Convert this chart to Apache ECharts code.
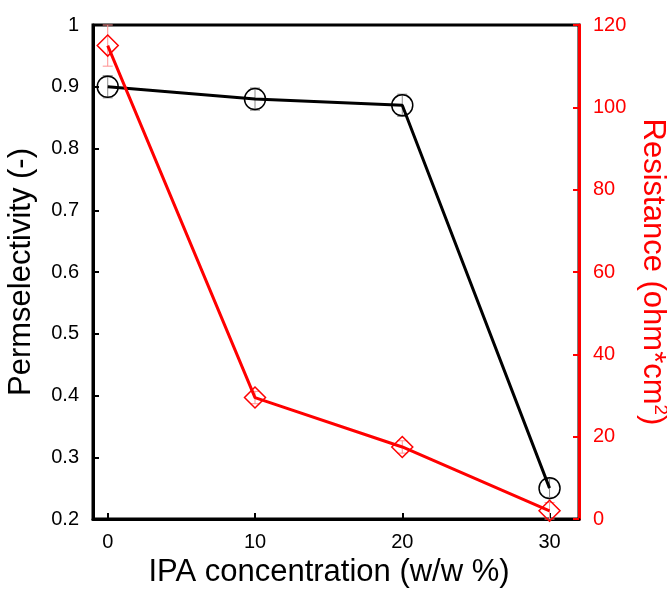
<!DOCTYPE html>
<html>
<head>
<meta charset="utf-8">
<script src="https://cdn.jsdelivr.net/npm/echarts@6/dist/echarts.min.js"></script>
<style>html,body{margin:0;padding:0;background:#fff;}#chart{width:667px;height:590px;}</style>
</head>
<body>
<div id="chart"></div>
<script>
const ipaConcentration = [0, 10, 20, 30];
const permselectivity = [0.9, 0.88, 0.87, 0.25];
const permselectivityError = [0.018, 0.018, 0.018, 0.015];
const resistance = [115, 29.5, 17.5, 2];
const resistanceError = [5, 1.5, 1.5, 2];
const xTicks = [0, 10, 20, 30];

const FONT = '"Liberation Sans", Arial, sans-serif';

function errorSeries(values, errors, yAxisIndex, color) {
  return {
    type: 'custom',
    yAxisIndex: yAxisIndex,
    z: 1,
    silent: true,
    data: ipaConcentration.map((x, i) => [x, values[i], errors[i]]),
    renderItem: function (params, api) {
      const x = api.value(0), y = api.value(1), e = api.value(2);
      const lo = api.coord([x, y - e]);
      const hi = api.coord([x, y + e]);
      const w = 5;
      const style = { stroke: color, lineWidth: 1 };
      return {
        type: 'group',
        children: [
          { type: 'line', shape: { x1: lo[0], y1: lo[1], x2: hi[0], y2: hi[1] }, style: style },
          { type: 'line', shape: { x1: lo[0] - w, y1: lo[1], x2: lo[0] + w, y2: lo[1] }, style: style },
          { type: 'line', shape: { x1: hi[0] - w, y1: hi[1], x2: hi[0] + w, y2: hi[1] }, style: style }
        ]
      };
    }
  };
}

const chart = echarts.init(document.getElementById('chart'), null, { renderer: 'canvas' });
chart.setOption({
  animation: false,
  backgroundColor: '#fff',
  textStyle: { fontFamily: FONT },
  grid: { left: 93, right: 88, top: 25, bottom: 71, containLabel: false, outerBoundsMode: 'none', show: true, borderColor: '#000', borderWidth: 3, backgroundColor: 'transparent' },
  xAxis: {
    type: 'value',
    min: -1,
    max: 32,
    name: 'IPA concentration (w/w %)',
    nameLocation: 'middle',
    nameGap: 38,
    nameTextStyle: { fontSize: 31, color: '#000', fontFamily: FONT, padding: [0, 14, 0, 0] },
    axisLine: { show: true, onZero: false, lineStyle: { color: '#000', width: 3 } },
    axisTick: { show: true, inside: true, length: 6, lineStyle: { color: '#000', width: 2 }, customValues: xTicks },
    axisLabel: { fontSize: 20, color: '#000', margin: 13, fontFamily: FONT, customValues: xTicks },
    splitLine: { show: false }
  },
  yAxis: [
    {
      type: 'value',
      min: 0.2,
      max: 1,
      interval: 0.1,
      position: 'left',
      name: 'Permselectivity (-)',
      nameLocation: 'middle',
      nameGap: 56,
      nameRotate: 90,
      nameTextStyle: { fontSize: 31, color: '#000', fontFamily: FONT },
      axisLine: { show: true, onZero: false, lineStyle: { color: '#000', width: 3 } },
      axisTick: { show: true, inside: true, length: 6, lineStyle: { color: '#000', width: 2 } },
      axisLabel: { fontSize: 20, color: '#000', margin: 14, fontFamily: FONT, formatter: v => String(Math.round(v * 10) / 10) },
      splitLine: { show: false }
    },
    {
      type: 'value',
      min: 0,
      max: 120,
      interval: 20,
      position: 'right',
      name: 'Resistance (ohm*cm{sup|2})',
      nameLocation: 'middle',
      nameGap: 55,
      nameRotate: -90,
      nameTextStyle: {
        fontSize: 31, color: '#ff0000', fontFamily: FONT,
        rich: { sup: { fontSize: 19, color: '#ff0000', fontFamily: FONT, verticalAlign: 'top', padding: [0, 0, 14, 0] } }
      },
      axisLine: { show: true, onZero: false, lineStyle: { color: '#ff0000', width: 3 } },
      axisTick: { show: true, inside: true, length: 6, lineStyle: { color: '#ff0000', width: 2 } },
      axisLabel: { fontSize: 20, color: '#ff0000', margin: 14, fontFamily: FONT },
      splitLine: { show: false }
    }
  ],
  series: [
    errorSeries(permselectivity, permselectivityError, 0, '#8c8c8c'),
    errorSeries(resistance, resistanceError, 1, '#ff9090'),
    {
      type: 'line',
      yAxisIndex: 0,
      z: 3,
      data: ipaConcentration.map((x, i) => [x, permselectivity[i]]),
      symbol: 'circle',
      symbolSize: 21,
      itemStyle: { color: 'rgba(0,0,0,0)', borderColor: '#000', borderWidth: 1.5 },
      lineStyle: { color: '#000', width: 3 }
    },
    {
      type: 'line',
      yAxisIndex: 1,
      z: 4,
      data: ipaConcentration.map((x, i) => [x, resistance[i]]),
      symbol: 'diamond',
      symbolSize: 21,
      itemStyle: { color: 'rgba(0,0,0,0)', borderColor: '#ff0000', borderWidth: 1.5 },
      lineStyle: { color: '#ff0000', width: 3 }
    }
  ]
});
</script>
</body>
</html>
